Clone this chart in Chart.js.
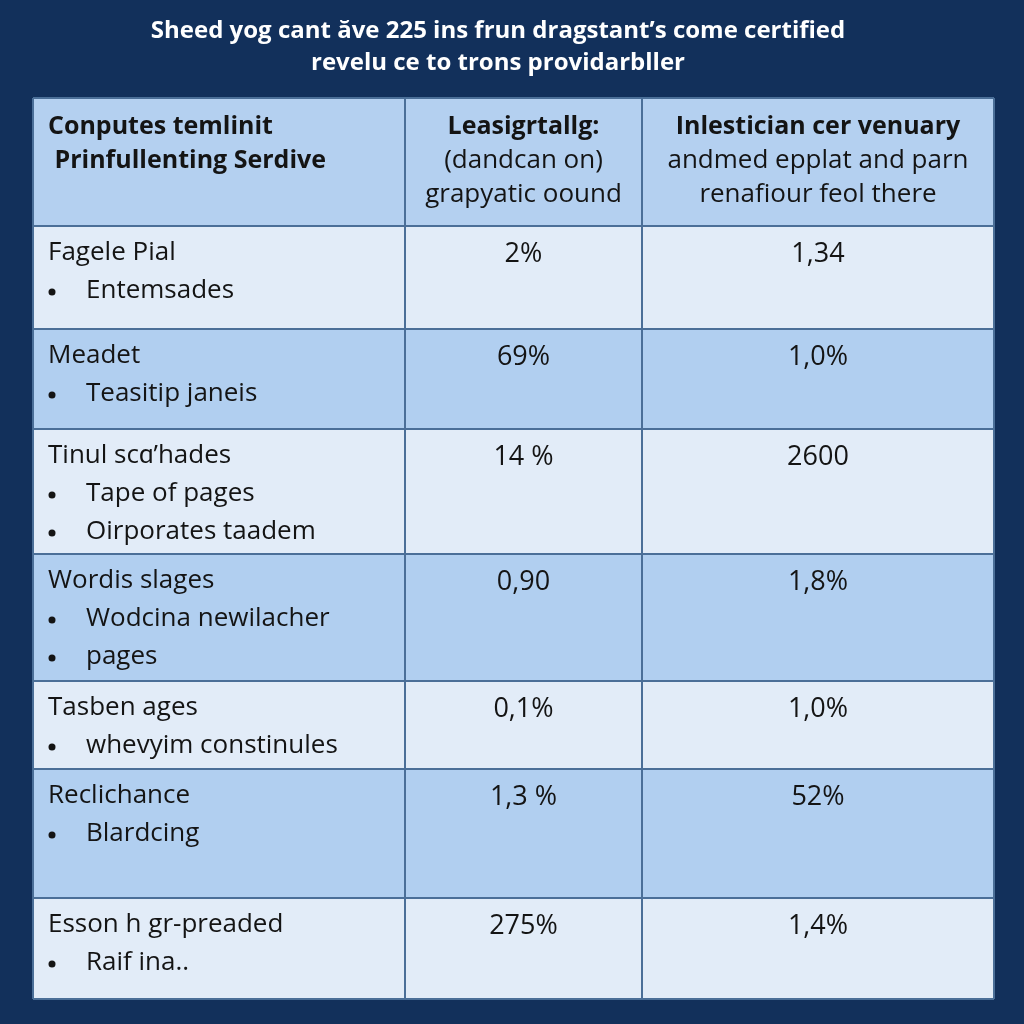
<!DOCTYPE html>
<html lang="en">
<head>
    <meta charset="UTF-8">
    <title>Table</title>
    <script src="https://cdn.jsdelivr.net/npm/chart.js"></script>
    <style>
        body { margin: 0; background: #12305b; }
        .wrap { width: 1024px; height: 1024px; }
    </style>
</head>
<body>
    <div class="wrap"><canvas id="table-chart"></canvas></div>
    <script>
    // Texto del gráfico
    const titleLines = ['Sheed yog cant \u0103ve 225 ins frun dragstant\u2019s come certified', 'revelu ce to trons providarbller'];
    const headers = [
        ['Conputes temlinit', ' Prinfullenting Serdive'],
        ['Leasigrtallg:', '(dandcan on)', 'grapyatic oound'],
        ['Inlestician cer venuary', 'andmed epplat and parn', 'renafiour feol there']
    ];
    const headerBoldLines = [2, 1, 1];
    const rowTitles = ['Fagele Pial', 'Meadet', 'Tinul sc\u0251\u2019hades', 'Wordis slages', 'Tasben ages', 'Reclichance', 'Esson h gr-preaded'];
    const rowBullets = [
        ['Entemsades'],
        ['Teasitip janeis'],
        ['Tape of pages', 'Oirporates taadem'],
        ['Wodcina newilacher', 'pages'],
        ['whevyim constinules'],
        ['Blardcing'],
        ['Raif ina..']
    ];
    const col2Values = ['2%', '69%', '14 %', '0,90', '0,1%', '1,3 %', '275%'];
    const col3Values = ['1,34', '1,0%', '2600', '1,8%', '1,0%', '52%', '1,4%'];

    // Tamaños de columnas y filas (unidades de escala)
    const colWidths = [372, 237, 352];
    const rowHeights = [128, 103, 100, 125, 127, 88, 129, 101];

    const colEdges = [0];
    colWidths.forEach(w => colEdges.push(colEdges[colEdges.length - 1] + w));
    const rowEdges = [0];
    rowHeights.forEach(h => rowEdges.push(rowEdges[rowEdges.length - 1] + h));

    const FONT = '"Open Sans", Lato, sans-serif';
    const fills = { header: '#b4d0f0', light: '#e2ecf8', mid: '#b1cff0' };
    const lineColor = '#4b6f98';
    const textColor = '#141414';

    const tablePlugin = {
        id: 'tableCells',
        beforeDatasetsDraw(chart) {
            const { ctx, scales: { x, y } } = chart;
            const px = v => x.getPixelForValue(v);
            const py = v => y.getPixelForValue(v);
            ctx.save();

            // Celdas
            for (let r = 0; r < rowHeights.length; r++) {
                ctx.fillStyle = r === 0 ? fills.header : (r % 2 === 1 ? fills.light : fills.mid);
                ctx.fillRect(px(0), py(rowEdges[r]), px(colEdges[3]) - px(0), py(rowEdges[r + 1]) - py(rowEdges[r]));
            }

            // Líneas
            ctx.strokeStyle = lineColor;
            ctx.lineWidth = 2;
            rowEdges.forEach(v => {
                ctx.beginPath();
                ctx.moveTo(px(0), py(v));
                ctx.lineTo(px(colEdges[3]), py(v));
                ctx.stroke();
            });
            colEdges.forEach(v => {
                ctx.beginPath();
                ctx.moveTo(px(v), py(0));
                ctx.lineTo(px(v), py(rowEdges[rowEdges.length - 1]));
                ctx.stroke();
            });

            ctx.fillStyle = textColor;
            ctx.textBaseline = 'middle';

            // Encabezados
            headers.forEach((lines, c) => {
                lines.forEach((t, i) => {
                    ctx.font = i < headerBoldLines[c] ? 'bold 25px ' + FONT : '26px ' + FONT;
                    const yy = py(rowEdges[0]) + 29 + i * 34;
                    if (c === 0) {
                        ctx.textAlign = 'left';
                        ctx.fillText(t, px(colEdges[0]) + 15, yy);
                    } else {
                        ctx.textAlign = 'center';
                        ctx.fillText(t, (px(colEdges[c]) + px(colEdges[c + 1])) / 2, yy);
                    }
                });
            });

            // Filas
            rowTitles.forEach((t, r) => {
                const top = py(rowEdges[r + 1]);
                const y0 = top + 27;
                ctx.font = '26px ' + FONT;
                ctx.textAlign = 'left';
                ctx.fillText(t, px(colEdges[0]) + 15, y0);
                rowBullets[r].forEach((b, i) => {
                    const yy = y0 + (i + 1) * 38;
                    ctx.beginPath();
                    ctx.arc(px(colEdges[0]) + 19, yy + 1, 3.5, 0, Math.PI * 2);
                    ctx.fill();
                    ctx.fillText(b, px(colEdges[0]) + 53, yy);
                });
                ctx.font = '27px ' + FONT;
                ctx.textAlign = 'center';
                ctx.fillText(col2Values[r], (px(colEdges[1]) + px(colEdges[2])) / 2, y0 + 1);
                ctx.fillText(col3Values[r], (px(colEdges[2]) + px(colEdges[3])) / 2, y0 + 1);
            });
            ctx.restore();
        },
        afterDraw(chart) {
            // Título
            const { ctx } = chart;
            ctx.save();
            ctx.fillStyle = '#ffffff';
            ctx.font = 'bold 24px ' + FONT;
            ctx.textAlign = 'center';
            ctx.textBaseline = 'middle';
            titleLines.forEach((t, i) => ctx.fillText(t, chart.width / 2 - 14, 31 + i * 32));
            ctx.restore();
        }
    };

    document.addEventListener('DOMContentLoaded', () => {
        new Chart(document.getElementById('table-chart'), {
            type: 'scatter',
            data: { datasets: [] },
            options: {
                responsive: true,
                maintainAspectRatio: false,
                animation: false,
                layout: { padding: { left: 33, right: 30, top: 98, bottom: 25 } },
                scales: {
                    x: { type: 'linear', min: 0, max: colEdges[3], display: false },
                    y: { type: 'linear', min: 0, max: rowEdges[rowEdges.length - 1], reverse: true, display: false }
                },
                plugins: {
                    legend: { display: false },
                    tooltip: { enabled: false },
                    title: { display: false }
                }
            },
            plugins: [tablePlugin]
        });
    });
    </script>
</body>
</html>
